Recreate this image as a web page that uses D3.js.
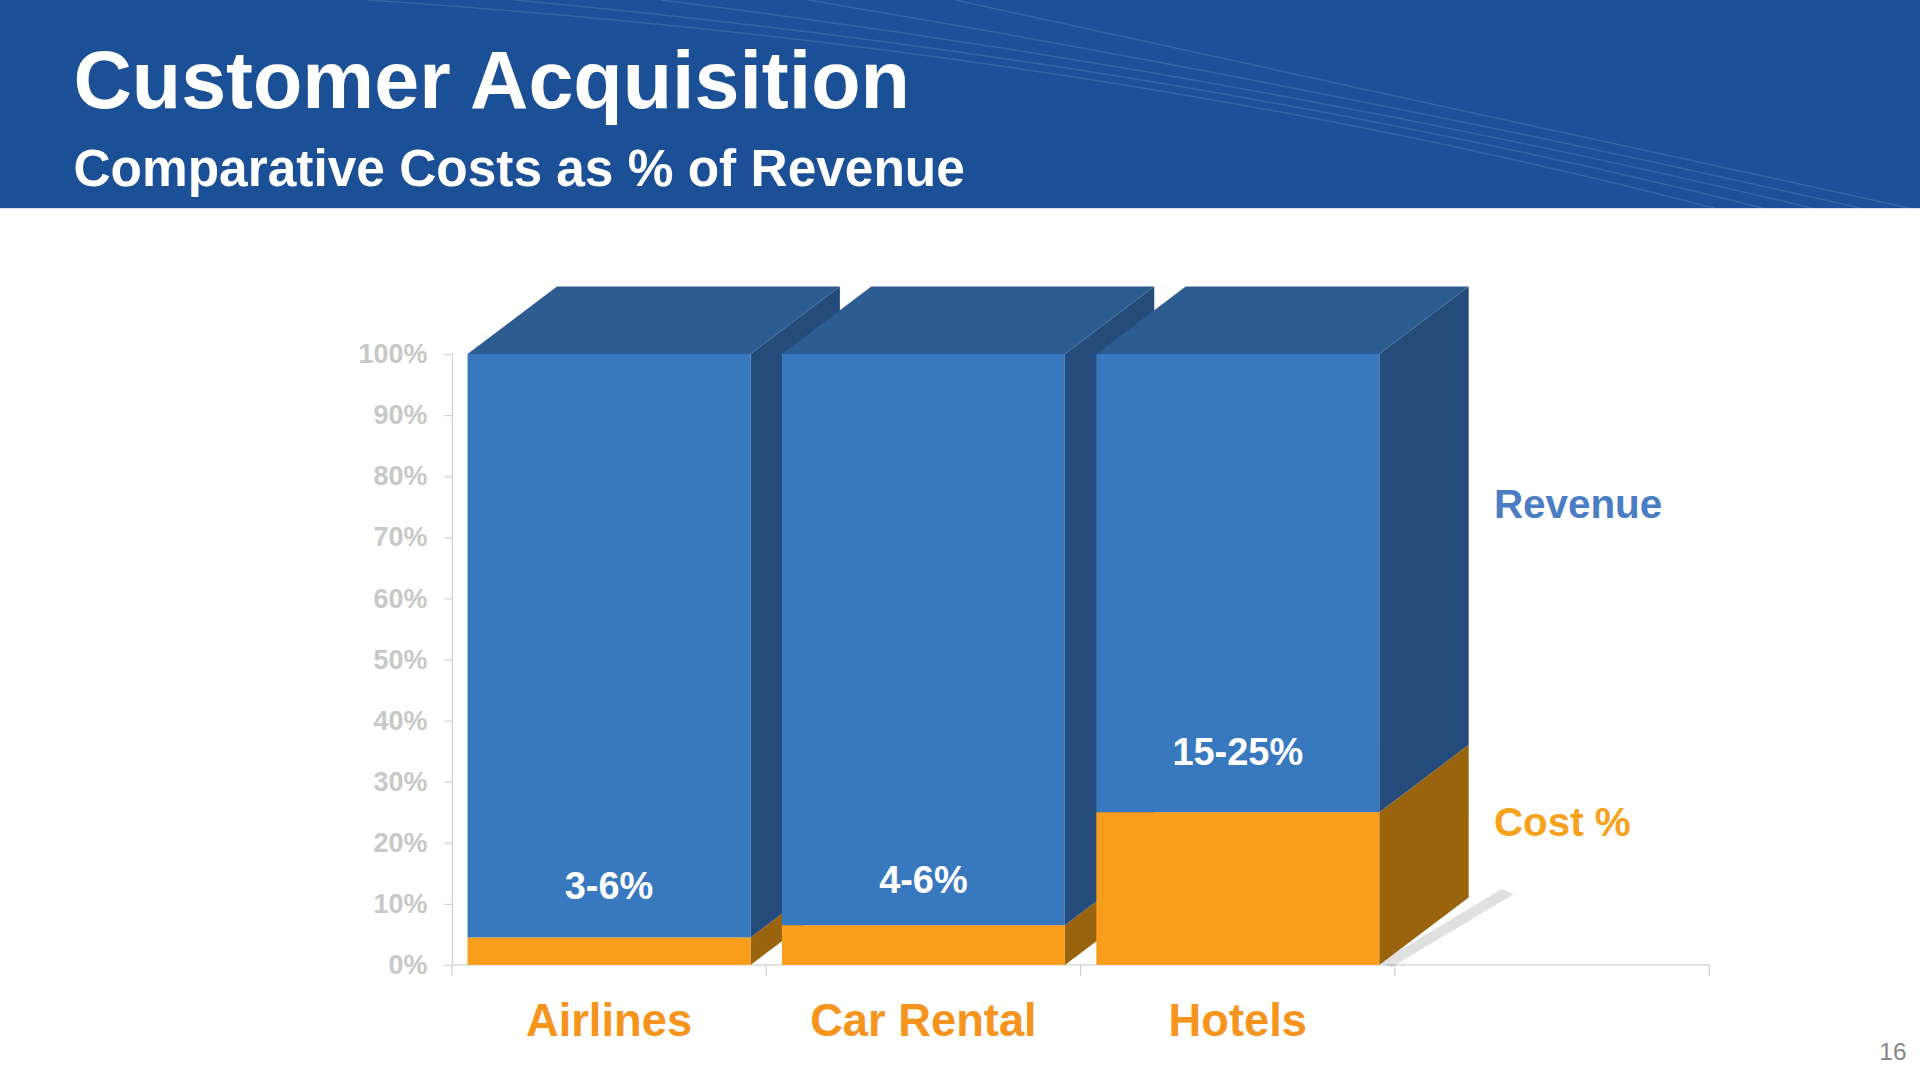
<!DOCTYPE html>
<html><head><meta charset="utf-8">
<script src="https://cdn.jsdelivr.net/npm/d3@7"></script>
<style>body{margin:0;background:#fff;overflow:hidden}</style>
</head><body>
<script>
const categories = ["Airlines", "Car Rental", "Hotels"];
const costValues = [4.5, 6.5, 25];
const costLabels = ["3-6%", "4-6%", "15-25%"];
const labelValues = [13, 14, 35];
const yTicks = [0, 10, 20, 30, 40, 50, 60, 70, 80, 90, 100];

const W = 1568, H = 882;
const svg = d3.select("body").append("svg")
  .attr("width", 1920).attr("height", 1080)
  .attr("viewBox", `0 0 ${W} ${H}`);
const font = "Liberation Sans, Arial, sans-serif";

// header
svg.append("rect").attr("width", W).attr("height", 170).attr("fill", "#1b5096");
for (let i = 0; i < 5; i++) {
  svg.append("path")
    .attr("d", `M${300 + i * 120},0 Q${900 + i * 60},${40 + i * 10} ${1400 + i * 40},170`)
    .attr("fill", "none").attr("stroke", "rgba(255,255,255,0.12)").attr("stroke-width", 1.2);
}
svg.append("text").attr("x", 60).attr("y", 88).text("Customer Acquisition")
  .attr("fill", "#fff").attr("font-family", font).attr("font-weight", "bold").attr("font-size", 66);
svg.append("text").attr("x", 60).attr("y", 152).text("Comparative Costs as % of Revenue")
  .attr("fill", "#fff").attr("font-family", font).attr("font-weight", "bold").attr("font-size", 42);

const x = d3.scaleBand().domain([...categories, ""]).range([369, 1396]).paddingInner(0.1).paddingOuter(0.05);
const y = d3.scaleLinear().domain([0, 100]).range([788, 289]);

const yAxis = svg.append("g").attr("transform", "translate(369,0)")
  .call(d3.axisLeft(y).tickValues(yTicks).tickFormat(d => d + "%").tickSize(6).tickPadding(14));
yAxis.selectAll("text").attr("fill", "#c8c8c8").attr("font-size", 22).attr("font-weight", "bold").attr("font-family", font);
yAxis.selectAll("line,path").attr("stroke", "#d0d0d0");

const xAxis = svg.append("g").attr("transform", "translate(0,788)");
xAxis.append("line").attr("x1", 369).attr("x2", 1396).attr("stroke", "#d0d0d0");
[0, 1, 2, 3, 4].forEach(i => {
  const tx = 369 + i * (1396 - 369) / 4;
  xAxis.append("line").attr("x1", tx).attr("x2", tx).attr("y1", 0).attr("y2", 9).attr("stroke", "#d0d0d0");
});

const dx = 73, dy = -55;
const bw = x.bandwidth();
// shadow
svg.append("path").attr("d", `M${x("Hotels")+bw},786 L${x("Hotels")+bw+100},726 L${x("Hotels")+bw+110},730 L${x("Hotels")+bw+10},790 Z`)
  .attr("fill", "rgba(0,0,0,0.12)");

categories.forEach((c, i) => {
  const x0 = x(c), x1 = x0 + bw;
  const g = svg.append("g");
  const segs = [
    { lo: 0, hi: costValues[i], front: "#f99d1c", side: "#9a640f" },
    { lo: costValues[i], hi: 100, front: "#3878be", side: "#244b7a" }
  ];
  segs.forEach(s => {
    g.append("polygon").attr("points",
      `${x1},${y(s.lo)} ${x1 + dx},${y(s.lo) + dy} ${x1 + dx},${y(s.hi) + dy} ${x1},${y(s.hi)}`)
      .attr("fill", s.side);
    g.append("rect").attr("x", x0).attr("y", y(s.hi)).attr("width", bw)
      .attr("height", y(s.lo) - y(s.hi)).attr("fill", s.front);
  });
  g.append("polygon").attr("points",
    `${x0},${y(100)} ${x0 + dx},${y(100) + dy} ${x1 + dx},${y(100) + dy} ${x1},${y(100)}`)
    .attr("fill", "#2c5c90");
  svg.append("text").attr("x", x0 + bw / 2).attr("y", y(labelValues[i]) + 11).text(costLabels[i])
    .attr("text-anchor", "middle").attr("fill", "#fff").attr("font-family", font)
    .attr("font-weight", "bold").attr("font-size", 31);
  svg.append("text").attr("x", x0 + bw / 2).attr("y", 846).text(c)
    .attr("text-anchor", "middle").attr("fill", "#f7941d").attr("font-family", font)
    .attr("font-weight", "bold").attr("font-size", 37);
});

svg.append("text").attr("x", 1220).attr("y", 423).text("Revenue")
  .attr("fill", "#4a7dc4").attr("font-family", font).attr("font-weight", "bold").attr("font-size", 33);
svg.append("text").attr("x", 1220).attr("y", 683).text("Cost %")
  .attr("fill", "#f7a21c").attr("font-family", font).attr("font-weight", "bold").attr("font-size", 33);
svg.append("text").attr("x", 1557).attr("y", 866).text("16").attr("text-anchor", "end")
  .attr("fill", "#888").attr("font-family", "Liberation Sans, sans-serif").attr("font-size", 20);
</script>
</body></html>
